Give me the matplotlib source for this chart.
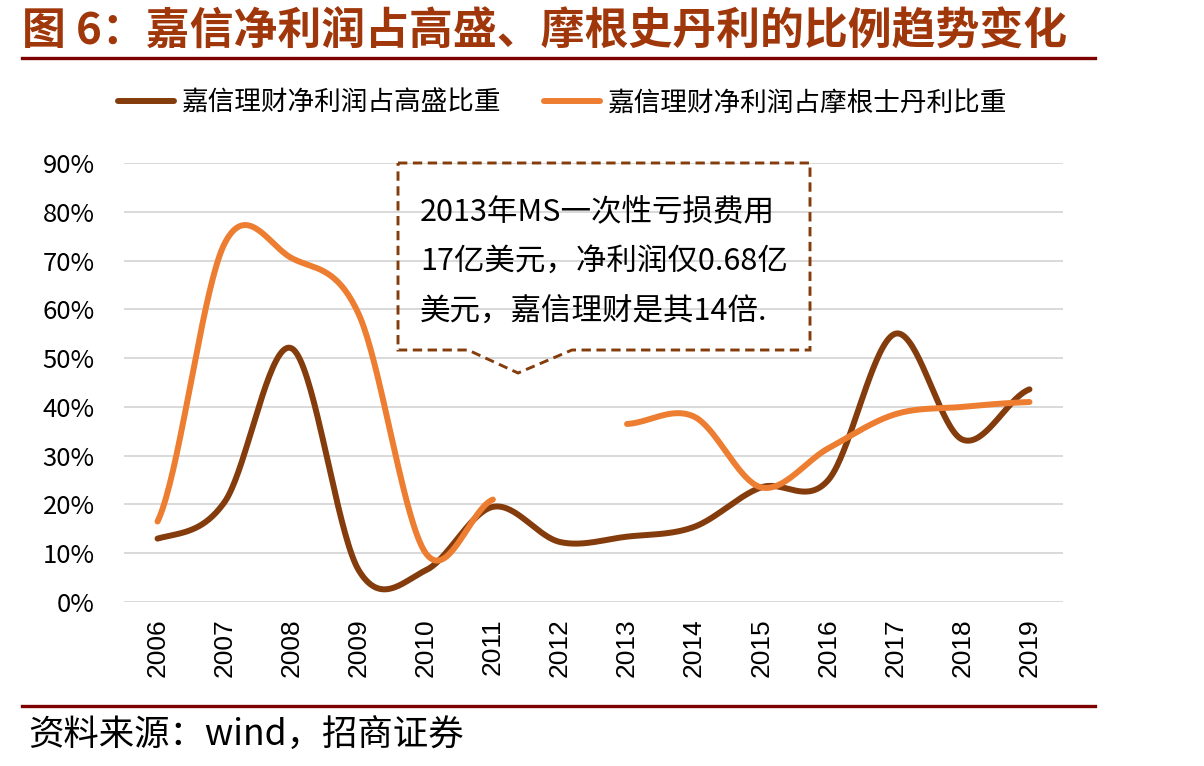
import numpy as np
import matplotlib
matplotlib.use("Agg")
import matplotlib.pyplot as plt
from matplotlib.patches import Polygon
from matplotlib.lines import Line2D

plt.rcParams['font.family'] = ['Noto Sans CJK SC', 'DejaVu Sans']

# 数据（读图估计，单位 %）
years = ['2006', '2007', '2008', '2009', '2010', '2011', '2012',
         '2013', '2014', '2015', '2016', '2017', '2018', '2019']
gs_share = [13, 20.5, 52, 6.5, 6.5, 19.5, 12.3, 13.4, 15.4, 23.5, 25, 55, 33.3, 43.6]
ms_share = [16.5, 73.5, 70.5, 59, 10, 21, None, 36.5, 38, 23.5, 31.5, 38.5, 40, 41]
y_ticks = [0, 10, 20, 30, 40, 50, 60, 70, 80, 90]

gs_label = '嘉信理财净利润占高盛比重'
ms_label = '嘉信理财净利润占摩根士丹利比重'
title = '图 6：嘉信净利润占高盛、摩根史丹利的比例趋势变化'
note = ['2013年MS一次性亏损费用', '17亿美元，净利润仅0.68亿', '美元，嘉信理财是其14倍.']
source = '资料来源：wind，招商证券'

BROWN = '#843C0C'
ORANGE = '#ED7D31'
W, H = 1204, 766


def fx(x):
    return x / W


def fy(y):
    return 1 - y / H


def smooth_runs(vals, n=40):
    # Excel 风格平滑线：按空值切段，每段做 Catmull-Rom
    runs, cur = [], []
    for i, v in enumerate(vals):
        if v is None:
            if cur:
                runs.append(cur)
            cur = []
        else:
            cur.append((i, v))
    if cur:
        runs.append(cur)
    out = []
    for run in runs:
        xs = np.array([p[0] for p in run], float)
        ys = np.array([p[1] for p in run], float)
        k = len(ys)
        m = np.zeros(k)
        for i in range(k):
            a = ys[max(i - 1, 0)]
            b = ys[min(i + 1, k - 1)]
            m[i] = (b - a) / 2
        sx, sy = [], []
        for i in range(k - 1):
            t = np.linspace(0, 1, n)
            h00 = 2 * t**3 - 3 * t**2 + 1
            h10 = t**3 - 2 * t**2 + t
            h01 = -2 * t**3 + 3 * t**2
            h11 = t**3 - t**2
            sy.extend(h00 * ys[i] + h10 * m[i] + h01 * ys[i + 1] + h11 * m[i + 1])
            sx.extend(xs[i] + t)
        out.append((np.array(sx), np.array(sy)))
    return out


fig = plt.figure(figsize=(W / 100, H / 100), dpi=100)
ax = fig.add_axes([fx(124), fy(602), (1063 - 124) / W, (602 - 163) / H])

for sx, sy in smooth_runs(gs_share):
    ax.plot(sx, sy, color=BROWN, lw=4.3, solid_capstyle='round', zorder=3)
for sx, sy in smooth_runs(ms_share):
    ax.plot(sx, sy, color=ORANGE, lw=4.3, solid_capstyle='round', zorder=3)

ax.set_xlim(-0.5, len(years) - 0.5)
ax.set_ylim(0, 90)
ax.set_yticks(y_ticks)
ax.set_yticklabels([f'{v}%' for v in y_ticks], fontsize=18.5)
ax.set_xticks(range(len(years)))
ax.set_xticklabels(years, rotation=90, fontsize=19, family=['Liberation Sans', 'DejaVu Sans'])
ax.tick_params(axis='y', length=0, pad=21)
ax.tick_params(axis='x', length=0, pad=12)
ax.grid(axis='y', color='#d9d9d9', lw=1.4)
ax.set_axisbelow(True)
for sp in ax.spines.values():
    sp.set_visible(False)

# 图例
handles = [Line2D([], [], color=BROWN, lw=4.3, solid_capstyle='round'),
           Line2D([], [], color=ORANGE, lw=4.3, solid_capstyle='round')]
fig.legend(handles, [gs_label, ms_label], loc='center', ncol=2,
           bbox_to_anchor=(fx(563), fy(103)), frameon=False, fontsize=19.2,
           handlelength=2.1, handletextpad=0.3, columnspacing=1.6)

# 标题与分隔线
fig.text(fx(22), fy(31), title, fontsize=31.6, weight='bold', color='#A0370B', va='center')
fig.add_artist(Line2D([fx(22), fx(1095)], [fy(58), fy(58)], color='#7F0000', lw=2.4))
fig.add_artist(Line2D([fx(22), fx(1095)], [fy(706), fy(706)], color='#7F0000', lw=2.4))
fig.text(fx(28), fy(736), source, fontsize=25.5, va='center')

# 注释框
box = [(398, 163), (810, 163), (810, 350), (572, 350), (518, 373), (468, 350), (398, 350)]
fig.add_artist(Polygon([(fx(x), fy(y)) for x, y in box], closed=True, fill=False,
                       edgecolor=BROWN, lw=2.1, linestyle=(0, (3.2, 1.9)),
                       transform=fig.transFigure))
for i, line in enumerate(note):
    fig.text(fx(420), fy(212 + 49.5 * i), line, fontsize=22, va='center')

fig.savefig('out.png', dpi=100)
